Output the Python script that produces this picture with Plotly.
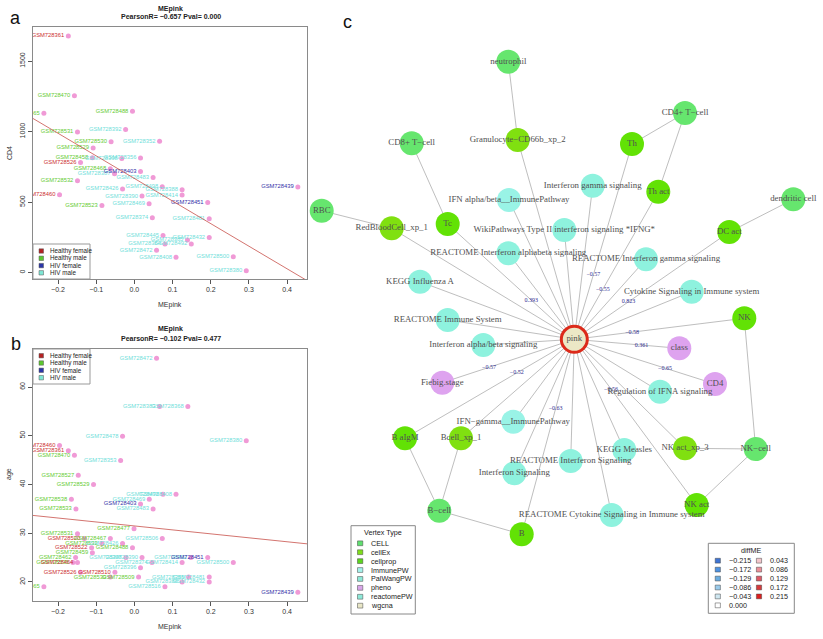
import plotly.graph_objects as go

W, H = 823, 639

# ---------------- panel a data (MEpink vs CD4) ----------------
a_ids = ["GSM728361", "GSM728470", "GSM728488", "GSM728465", "GSM728531", "GSM728392", "GSM728530",
         "GSM728352", "GSM728529", "GSM728458", "GSM728398", "GSM728356", "GSM728526", "GSM728468",
         "GSM728387", "GSM728403", "GSM728483", "GSM728532", "GSM728426", "GSM728498", "GSM728388",
         "GSM728460", "GSM728390", "GSM728414", "GSM728439", "GSM728451", "GSM728523", "GSM728469",
         "GSM728374", "GSM728481", "GSM728445", "GSM728432", "GSM728385", "GSM728384", "GSM728492",
         "GSM728472", "GSM728408", "GSM728500", "GSM728380"]
a_me = [-0.173, -0.157, -0.005, -0.237, -0.149, -0.023, -0.061,
        0.066, -0.108, -0.110, -0.033, 0.016, -0.141, -0.063,
        -0.052, 0.016, 0.049, -0.149, -0.031, 0.073, 0.125,
        -0.196, 0.020, 0.125, 0.428, 0.192, -0.085, 0.0385,
        0.047, 0.196, 0.075, 0.196, 0.139, 0.080, 0.149,
        0.058, 0.109, 0.259, 0.293]
a_cd4 = [1678, 1254, 1145, 1130, 998, 1015, 929,
         931, 884, 815, 810, 813, 782, 737,
         702, 718, 675, 652, 593, 609, 588,
         552, 543, 550, 607, 498, 476, 488,
         389, 382, 263, 249, 232, 204, 204,
         159, 109, 112, 14]
a_grp = ["HF", "HM", "HM", "HM", "HM", "VM", "HM",
         "VM", "HM", "HM", "VM", "VM", "HF", "HM",
         "VM", "VF", "VM", "HM", "VM", "VM", "VM",
         "HF", "VM", "VM", "VF", "VF", "HM", "VM",
         "VM", "VM", "VM", "VM", "VM", "VM", "VM",
         "VM", "VM", "VM", "VM"]
a_fit = (668.0, -1602.0)   # intercept, slope
a_title = "PearsonR= \u22120.657 Pval= 0.000"

# ---------------- panel b data (MEpink vs age) ----------------
b_ids = ["GSM728472", "GSM728383", "GSM728368", "GSM728478", "GSM728380", "GSM728460", "GSM728361",
         "GSM728470", "GSM728353", "GSM728527", "GSM728529", "GSM728498", "GSM728408", "GSM728469",
         "GSM728538", "GSM728403", "GSM728533", "GSM728483", "GSM728477", "GSM728531", "GSM728520",
         "GSM728467", "GSM728506", "GSM728532", "GSM728426", "GSM728522", "GSM728488", "GSM728459",
         "GSM728462", "GSM728398", "GSM728390", "GSM728492", "GSM728451", "GSM728535", "GSM728464",
         "GSM728374", "GSM728414", "GSM728500", "GSM728396", "GSM728526", "GSM728510", "GSM728530",
         "GSM728509", "GSM728385", "GSM728481", "GSM728388", "GSM728432", "GSM728465", "GSM728516",
         "GSM728439"]
b_me = [0.058, 0.066, 0.140, -0.031, 0.293, -0.196, -0.173,
        -0.157, -0.036, -0.147, -0.107, 0.075, 0.109, 0.039,
        -0.165, 0.016, -0.153, 0.049, -0.001, -0.149, -0.131,
        -0.063, 0.073, -0.085, -0.031, -0.112, -0.005, -0.110,
        -0.154, -0.022, 0.020, 0.148, 0.192, -0.161, -0.149,
        0.046, 0.125, 0.259, 0.016, -0.141, -0.051, -0.063,
        0.011, 0.142, 0.196, 0.125, 0.196, -0.237, 0.080,
        0.428]
b_age = [65.9, 56.0, 56.0, 49.9, 49.0, 48.0, 46.9,
         46.0, 44.9, 41.9, 40.0, 38.0, 38.0, 37.0,
         37.0, 36.0, 35.0, 35.0, 30.9, 29.9, 28.9,
         28.9, 28.9, 27.9, 27.9, 27.0, 27.0, 26.0,
         25.0, 25.0, 25.0, 25.0, 25.0, 24.0, 24.0,
         24.0, 24.0, 24.0, 22.9, 22.0, 22.0, 21.0,
         21.0, 21.0, 21.0, 20.0, 20.0, 19.0, 19.0,
         17.9]
b_grp = ["VM", "VM", "VM", "VM", "VM", "HF", "HF",
         "HM", "VM", "HM", "HM", "VM", "VM", "VM",
         "HM", "VF", "HM", "VM", "HM", "HM", "HF",
         "HM", "VM", "HM", "VM", "HF", "HM", "HM",
         "HM", "VM", "VM", "VM", "VF", "HM", "HF",
         "VM", "VM", "VM", "VM", "HF", "HF", "HM",
         "HM", "VM", "VM", "VM", "VM", "HM", "VM",
         "VF"]
b_fit = (31.5, -8.12)
b_title = "PearsonR= \u22120.102 Pval= 0.477"

group_keys = ["HF", "HM", "VF", "VM"]
group_names = ["Healthy female", "Healthy male", "HIV female", "HIV male"]
group_text_col = {"HF": "#cc3030", "HM": "#66cc33", "VF": "#3333a8", "VM": "#70e0da"}
group_box_col = ["#b52222", "#5cc82e", "#2a35a8", "#7ee6d4"]

x_ticks = [-0.2, -0.1, 0.0, 0.1, 0.2, 0.3, 0.4]
x_ticktext = ["\u22120.2", "\u22120.1", "0.0", "0.1", "0.2", "0.3", "0.4"]
a_yticks = [0, 500, 1000, 1500]
b_yticks = [20, 30, 40, 50, 60]

# ---------------- panel c network ----------------
node_names = ["neutrophil", "CD4+ T\u2212cell", "CD8+ T\u2212cell", "dendritic cell", "RBC", "NK\u2212cell", "B\u2212cell",
              "Granulocyte\u2212CD66b_xp_2", "RedBloodCell_xp_1", "Bcell_xp_1", "NK act_xp_3",
              "Th", "Th act", "Tc", "DC act", "NK", "B aIgM", "NK act", "B",
              "IFN alpha/beta__ImmunePathway", "IFN\u2212gamma__ImmunePathway",
              "Interferon gamma signaling", "WikiPathways Type II interferon signaling *IFNG*", "KEGG Influenza A",
              "Cytokine Signaling in Immune system", "Interferon alpha/beta signaling", "Regulation of IFNA signaling",
              "KEGG Measles", "Interferon Signaling",
              "REACTOME Interferon alphabeta signaling", "REACTOME Interferon gamma signaling",
              "REACTOME Immune System", "REACTOME Interferon Signaling",
              "REACTOME Cytokine Signaling in Immune system",
              "class", "Fiebig.stage", "CD4",
              "pink"]
node_type = ["CELL"] * 7 + ["cellEx"] * 4 + ["cellprop"] * 8 + ["ImmunePW"] * 2 + ["PalWangPW"] * 8 + \
            ["reactomePW"] * 5 + ["pheno"] * 3 + ["wgcna"]
node_x = [508.3, 685.0, 411.7, 793.3, 321.7, 755.7, 439.3,
          517.7, 391.7, 461.0, 685.0,
          632.0, 658.3, 447.7, 729.3, 744.3, 405.0, 696.7, 521.7,
          509.0, 513.3,
          592.7, 564.3, 420.0, 691.7, 483.3, 660.0, 624.3, 514.3,
          508.3, 646.0, 447.7, 570.7, 611.7,
          679.3, 442.3, 715.0,
          574.3]
node_y = [61.7, 113.0, 143.3, 199.3, 210.7, 449.0, 510.7,
          140.0, 228.3, 438.3, 448.3,
          144.0, 191.7, 224.0, 232.0, 318.3, 438.3, 505.0, 534.3,
          200.0, 421.7,
          185.7, 230.0, 281.7, 291.7, 345.0, 391.7, 450.0, 473.3,
          253.3, 259.3, 320.0, 461.0, 515.0,
          348.3, 382.7, 384.0,
          339.3]

edges_from = ["neutrophil", "CD8+ T\u2212cell", "CD4+ T\u2212cell", "CD4+ T\u2212cell", "dendritic cell", "NK",
              "NK act_xp_3", "NK act", "RBC", "B aIgM", "Bcell_xp_1", "B\u2212cell"]
edges_to = ["Granulocyte\u2212CD66b_xp_2", "Tc", "Th", "Th act", "DC act", "NK\u2212cell",
            "NK\u2212cell", "NK\u2212cell", "RedBloodCell_xp_1", "B\u2212cell", "B\u2212cell", "B"]
hub = "pink"
hub_links = ["Granulocyte\u2212CD66b_xp_2", "Tc", "Th", "Th act", "DC act", "NK", "NK act_xp_3", "NK act",
             "RedBloodCell_xp_1", "B aIgM", "Bcell_xp_1", "B",
             "IFN alpha/beta__ImmunePathway", "IFN\u2212gamma__ImmunePathway",
             "Interferon gamma signaling", "WikiPathways Type II interferon signaling *IFNG*", "KEGG Influenza A",
             "Cytokine Signaling in Immune system", "Interferon alpha/beta signaling", "Regulation of IFNA signaling",
             "KEGG Measles", "Interferon Signaling",
             "REACTOME Interferon alphabeta signaling", "REACTOME Interferon gamma signaling",
             "REACTOME Immune System", "REACTOME Interferon Signaling",
             "REACTOME Cytokine Signaling in Immune system",
             "class", "Fiebig.stage", "CD4"]
edge_lab_node = ["Tc", "Th", "Th act", "DC act", "NK", "class", "CD4", "Fiebig.stage", "B aIgM", "B", "NK act"]
edge_lab_text = ["0.393", "\u22120.57", "\u22120.55", "0.823", "\u22120.58", "0.361", "\u22120.65", "\u22120.57",
                 "\u22120.52", "\u22120.63", "\u22120.56"]
edge_lab_frac = [0.34, 0.33, 0.34, 0.35, 0.34, 0.64, 0.645, 0.646, 0.34, 0.354, 0.3]

type_names = ["CELL", "cellEx", "cellprop", "ImmunePW", "PalWangPW", "pheno", "reactomePW", "wgcna"]
type_colors = {"CELL": "#66e66e", "cellEx": "#80e010", "cellprop": "#62e205", "ImmunePW": "#99f3e6",
               "PalWangPW": "#8ef2de", "pheno": "#dea3ef", "reactomePW": "#8ef2de", "wgcna": "#ece8c6"}
type_legend_colors = ["#5fdf6f", "#7edd1a", "#5cd41e", "#a5f2ec", "#8ee9d8", "#d9a6ea", "#8ee9d8", "#e8e6c6"]

diff_labels_l = ["\u22120.215", "\u22120.172", "\u22120.129", "\u22120.086", "\u22120.043", "0.000"]
diff_colors_l = ["#3e74d4", "#4d92e2", "#6aace0", "#9acbeb", "#cfe7f1", "#ffffff"]
diff_labels_r = ["0.043", "0.086", "0.129", "0.172", "0.215"]
diff_colors_r = ["#f3c6cc", "#eb8f99", "#de5966", "#d63a3c", "#dc2020"]

# ---------------- helpers ----------------
SANS = "Liberation Sans, Arial, sans-serif"
SERIF = "Liberation Serif, Times New Roman, serif"
PT = "#f09ad6"


def px(x):
    return x / W


def py(y):
    return 1 - y / H


fig = go.Figure()

XR = [-0.2655, 0.452]


def add_scatter_panel(ids, me, val, grp, fit, xa, ya):
    fig.add_trace(go.Scatter(
        x=me, y=val, mode="markers+text", text=ids, textposition="middle left",
        marker=dict(size=5, color=PT),
        textfont=dict(size=5.8, family=SANS, color=[group_text_col[g] for g in grp]),
        xaxis=xa, yaxis=ya, showlegend=False, hoverinfo="skip", cliponaxis=True))
    b0, b1 = fit
    fig.add_trace(go.Scatter(
        x=XR, y=[b0 + b1 * XR[0], b0 + b1 * XR[1]], mode="lines",
        line=dict(color="#c8504a", width=0.8), xaxis=xa, yaxis=ya,
        showlegend=False, hoverinfo="skip"))


add_scatter_panel(a_ids, a_me, a_cd4, a_grp, a_fit, "x", "y")
add_scatter_panel(b_ids, b_me, b_age, b_grp, b_fit, "x2", "y2")

# network edges
pos = {n: (x, y) for n, x, y in zip(node_names, node_x, node_y)}
ex, ey = [], []
for f, t in list(zip(edges_from, edges_to)) + [(hub, n) for n in hub_links]:
    ex += [pos[f][0], pos[t][0], None]
    ey += [pos[f][1], pos[t][1], None]
fig.add_trace(go.Scatter(x=ex, y=ey, mode="lines", line=dict(color="#adadad", width=0.8),
                         xaxis="x3", yaxis="y3", showlegend=False, hoverinfo="skip"))

# nodes
for tname in type_names:
    idx = [i for i, t in enumerate(node_type) if t == tname]
    if not idx:
        continue
    if tname == "wgcna":
        mk = dict(size=26, color=type_colors[tname], line=dict(color="#dc2a1a", width=3))
    else:
        mk = dict(size=24, color=type_colors[tname], line=dict(width=0))
    fig.add_trace(go.Scatter(x=[node_x[i] for i in idx], y=[node_y[i] for i in idx], mode="markers",
                             marker=mk, xaxis="x3", yaxis="y3", showlegend=False, hoverinfo="skip",
                             cliponaxis=False))

# edge labels
lx, ly = [], []
hx, hy = pos[hub]
for n, fr in zip(edge_lab_node, edge_lab_frac):
    lx.append(hx + fr * (pos[n][0] - hx))
    ly.append(hy + fr * (pos[n][1] - hy))
fig.add_trace(go.Scatter(x=lx, y=ly, mode="text", text=edge_lab_text, textposition="middle center",
                         textfont=dict(size=6, family=SERIF, color="#2a2a90"),
                         xaxis="x3", yaxis="y3", showlegend=False, hoverinfo="skip", cliponaxis=False))

# node labels
fig.add_trace(go.Scatter(x=node_x, y=node_y, mode="text", text=node_names, textposition="middle center",
                         textfont=dict(size=8.8, family=SERIF, color="#505050"),
                         xaxis="x3", yaxis="y3", showlegend=False, hoverinfo="skip", cliponaxis=False))

# ---------------- axes ----------------
common_x = dict(range=XR, tickvals=x_ticks, ticktext=x_ticktext, ticks="outside", ticklen=4,
                tickcolor="#555", showline=True, mirror=True, linecolor="#8a8a8a", linewidth=1,
                showgrid=False, zeroline=False, tickfont=dict(size=7, family=SANS, color="#333"))
common_y = dict(ticks="outside", ticklen=4, tickcolor="#555", showline=True, mirror=True,
                linecolor="#8a8a8a", linewidth=1, showgrid=False, zeroline=False, tickangle=-90,
                tickfont=dict(size=7, family=SANS, color="#333"))

fig.update_layout(
    width=W, height=H, margin=dict(l=0, r=0, t=0, b=0),
    paper_bgcolor="white", plot_bgcolor="white",
    xaxis=dict(domain=[px(33), px(307)], anchor="y", **common_x),
    yaxis=dict(domain=[py(279), py(27)], anchor="x", range=[-45, 1742], tickvals=a_yticks, **common_y),
    xaxis2=dict(domain=[px(33), px(307)], anchor="y2", **common_x),
    yaxis2=dict(domain=[py(601), py(349)], anchor="x2", range=[16.1, 67.8], tickvals=b_yticks, **common_y),
    xaxis3=dict(domain=[px(318), 1], anchor="y3", range=[318, W], visible=False),
    yaxis3=dict(domain=[0, 1], anchor="x3", range=[H, 0], visible=False),
)

shapes = []
ann = []


def text(x, y, s, size=7, bold=False, color="#222", xanchor="center", family=SANS, angle=0):
    ann.append(dict(x=px(x), y=py(y), xref="paper", yref="paper", text=("<b>%s</b>" % s) if bold else s,
                    showarrow=False, xanchor=xanchor, yanchor="middle", textangle=angle,
                    font=dict(size=size, family=family, color=color)))


def rect(x0, y0, x1, y1, fill="rgba(0,0,0,0)", line="#888", lw=1):
    shapes.append(dict(type="rect", xref="paper", yref="paper", x0=px(x0), x1=px(x1), y0=py(y1), y1=py(y0),
                       fillcolor=fill, line=dict(color=line, width=lw)))


# titles / axis labels
text(170.7, 9, "MEpink", 7, True)
text(170.7, 16.7, a_title, 7, True)
text(170.7, 329.3, "MEpink", 7, True)
text(170.7, 338.7, b_title, 7, True)
text(170, 305, "MEpink", 7, color="#333")
text(170, 627, "MEpink", 7, color="#333")
text(9, 153, "CD4", 7, color="#333", angle=-90)
text(9, 474, "age", 7, color="#333", angle=-90)
text(16, 18, "a", 18, color="#111")
text(16, 344, "b", 18, color="#111")
text(347, 22, "c", 18, color="#111")


# scatter legends
def group_legend(top, rows):
    rect(33, top, 90, top + 35, fill="white", line="#999")
    for k, (nm, col) in enumerate(zip(group_names, group_box_col)):
        yy = rows[k]
        rect(39, yy - 2.2, 43.5, yy + 2.2, fill=col, line="#555", lw=0.5)
        text(48, yy, nm, 6.3, color="#222", xanchor="left")


group_legend(244, [251, 258.3, 265.6, 272.8])
group_legend(349, [355.7, 363, 370.3, 377.7])

# vertex type legend
rect(351, 525.7, 415.3, 614, fill="white", line="#888")
text(382.7, 532.3, "Vertex Type", 7.2, color="#222")
for k, (nm, col) in enumerate(zip(type_names, type_legend_colors)):
    yy = 543.3 + k * 8.91
    rect(357.5, yy - 2.4, 362.8, yy + 2.4, fill=col, line="#444", lw=0.5)
    text(369.3, yy, nm, 7.2, color="#222", xanchor="left")

# diffME legend
rect(708.3, 543.3, 794.3, 613.3, fill="white", line="#888")
text(751, 550, "diffME", 7.2, color="#222")
for k, (lab, col) in enumerate(zip(diff_labels_l, diff_colors_l)):
    yy = 560.7 + k * 8.93
    rect(715.2, yy - 2.4, 720.4, yy + 2.4, fill=col, line="#444", lw=0.5)
    text(726.7, yy, lab, 7.2, color="#222", xanchor="left")
for k, (lab, col) in enumerate(zip(diff_labels_r, diff_colors_r)):
    yy = 560.7 + k * 8.93
    rect(756.4, yy - 2.4, 761.6, yy + 2.4, fill=col, line="#444", lw=0.5)
    text(768.3, yy, lab, 7.2, color="#222", xanchor="left")

fig.update_layout(shapes=shapes, annotations=ann)
fig.write_html("out.html", config={"displayModeBar": False},
               post_script="document.body.style.margin='0';document.body.style.overflow='hidden';")
